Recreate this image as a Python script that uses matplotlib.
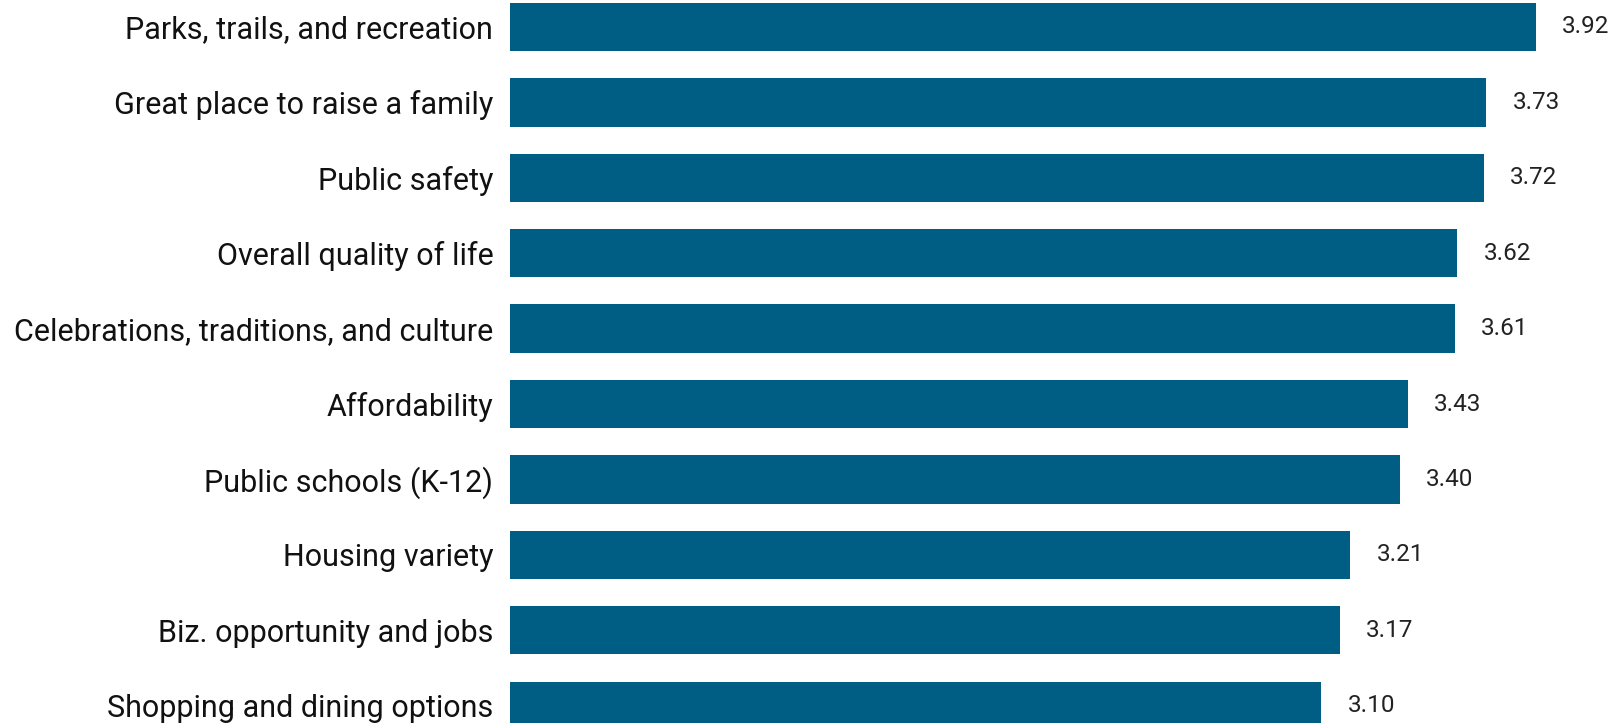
import numpy as np
import matplotlib
matplotlib.use("Agg")
import matplotlib.pyplot as plt

plt.rcParams['font.family'] = ['Roboto', 'DejaVu Sans']

# survey averages
categories = [
    "Parks, trails, and recreation",
    "Great place to raise a family",
    "Public safety",
    "Overall quality of life",
    "Celebrations, traditions, and culture",
    "Affordability",
    "Public schools (K-12)",
    "Housing variety",
    "Biz. opportunity and jobs",
    "Shopping and dining options",
]
scores = [3.92, 3.73, 3.72, 3.62, 3.61, 3.43, 3.40, 3.21, 3.17, 3.10]

bar_color = "#005E84"

fig = plt.figure(figsize=(16.24, 7.23), dpi=100)
ax = fig.add_axes([510/1624, 0, 1 - 510/1624, 1])

y = np.arange(len(categories))
ax.barh(y, scores, height=0.64, color=bar_color)

for yi, v in zip(y, scores):
    ax.annotate(f"{v:.2f}", xy=(v, yi), xytext=(19, 0), textcoords="offset points",
                va="center", ha="left", fontsize=17.5, color="#222222")

ax.set_yticks(y)
ax.set_yticklabels(categories, fontsize=22, color="#111111")
ax.tick_params(axis="y", length=0, pad=12)
ax.set_xticks([])
ax.set_xlim(0, 1114/261.7)
ax.set_ylim(9.23, -0.358)
for s in ax.spines.values():
    s.set_visible(False)

fig.savefig("out.png", dpi=100)
